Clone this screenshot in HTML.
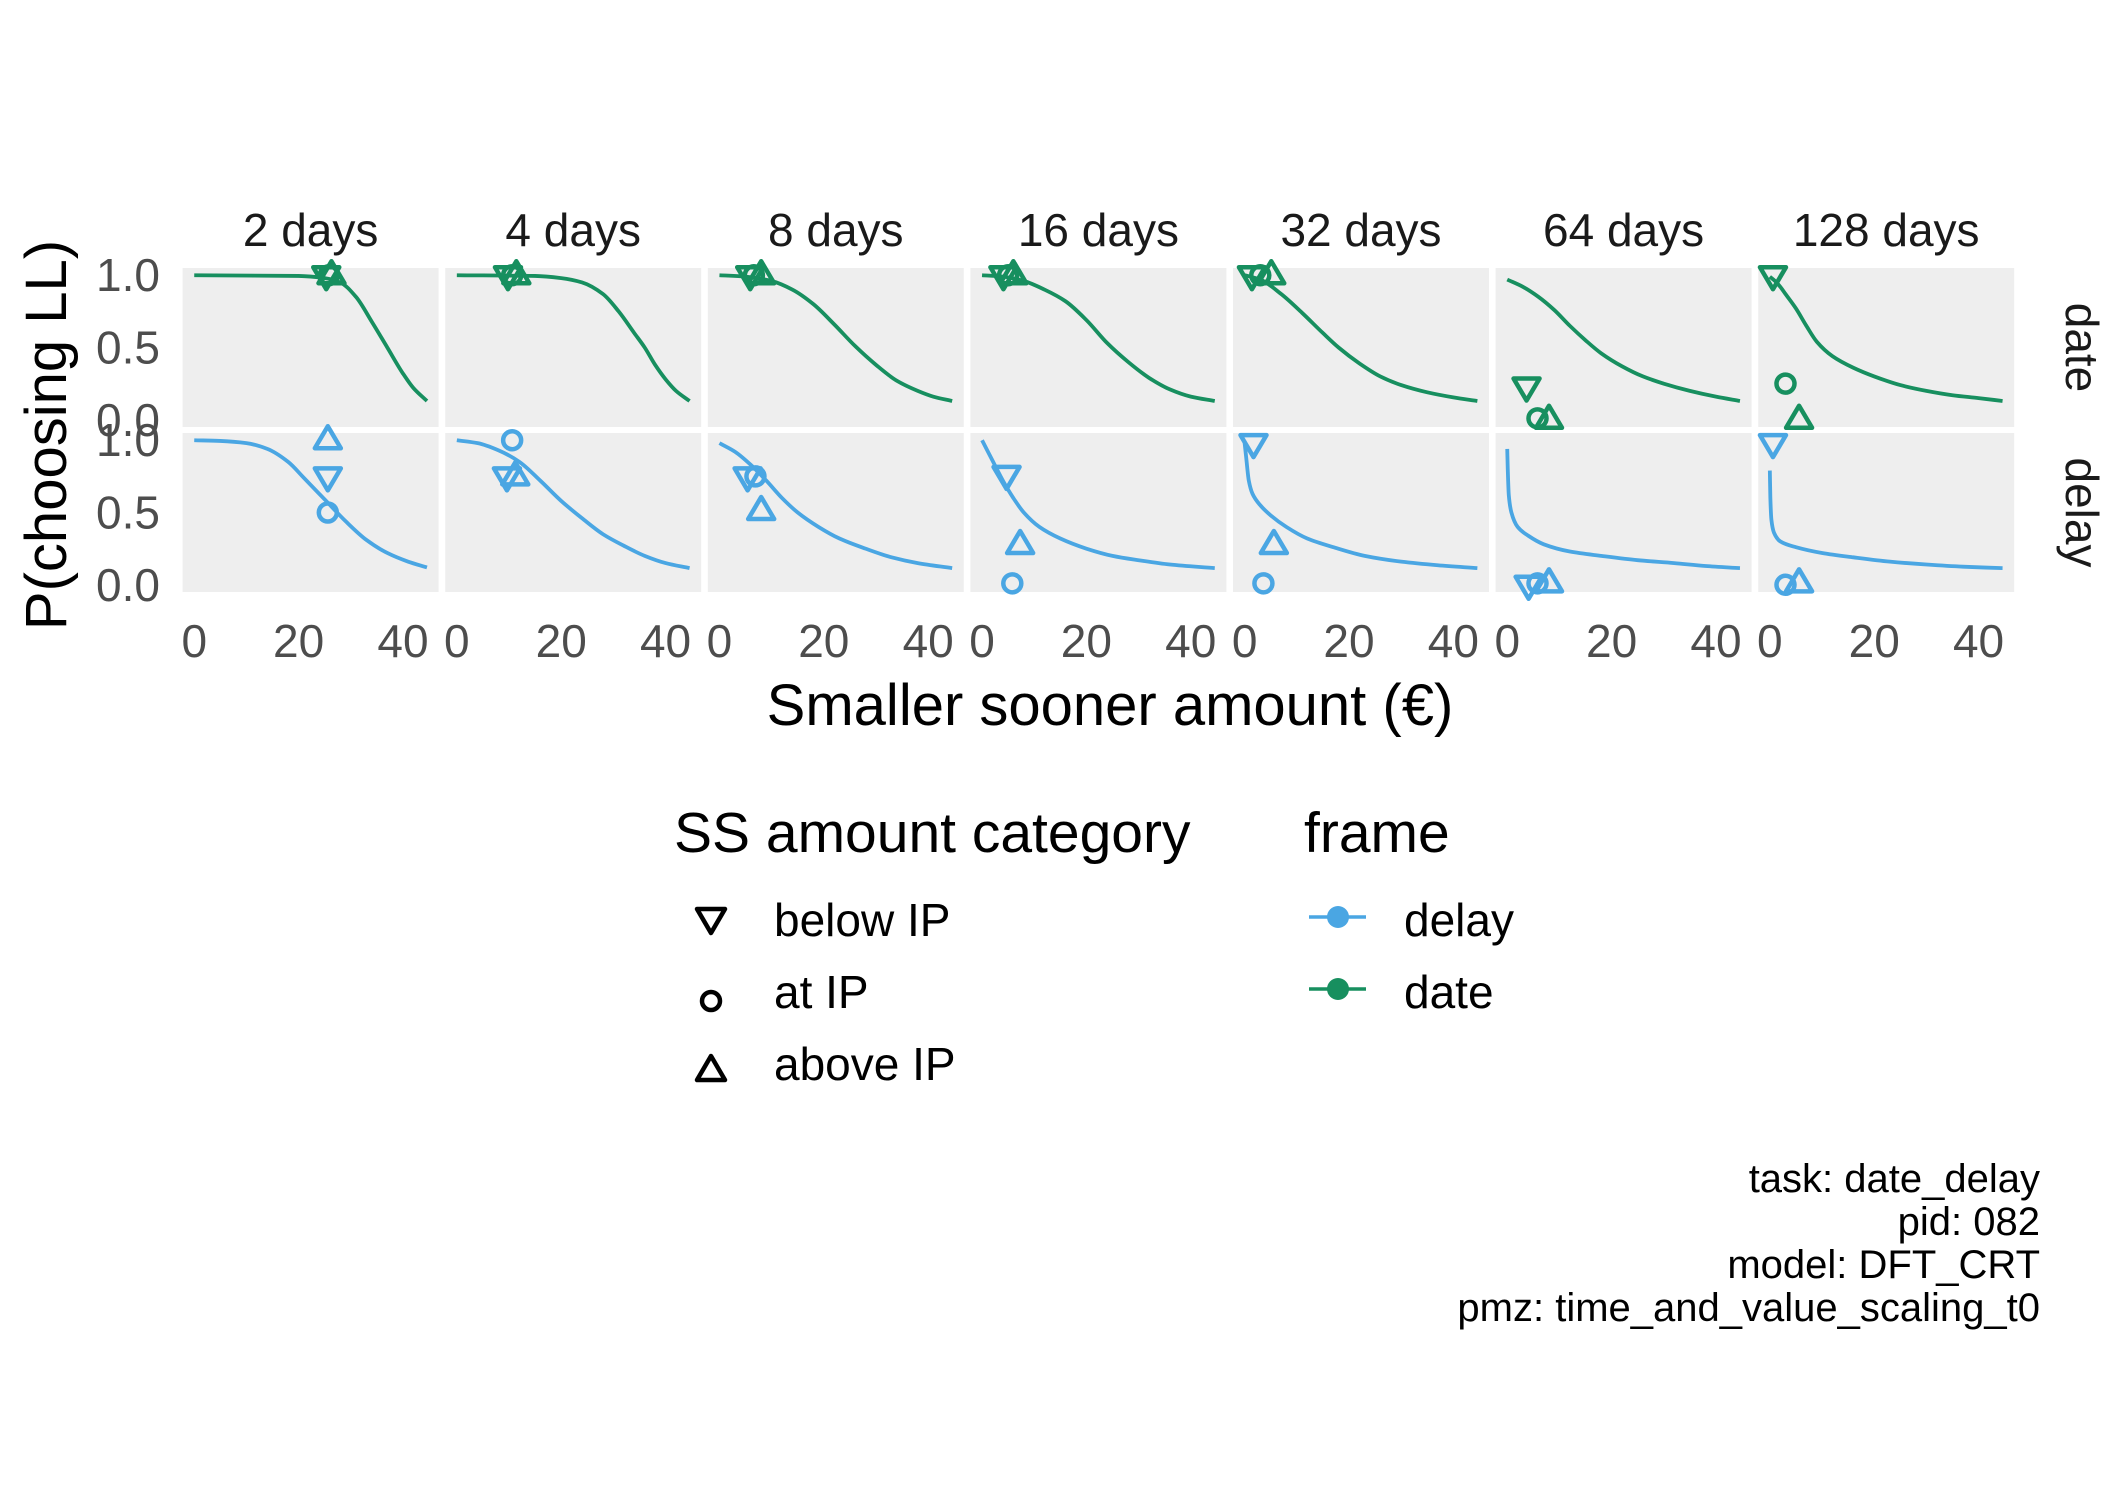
<!DOCTYPE html>
<html><head><meta charset="utf-8"><style>
html,body{margin:0;padding:0;background:#fff}
svg{display:block}
text{font-family:"Liberation Sans",Arial,sans-serif}
</style></head><body>
<svg id="chart" width="2125" height="1499" viewBox="0 0 2125 1499" xmlns="http://www.w3.org/2000/svg">
<g id="panels"></g>
<g id="axes"></g>
<text x="66" y="435" font-size="58" text-anchor="middle" transform="rotate(-90 66 435)" fill="#000">P(choosing LL)</text>
<text x="1110" y="725" font-size="58" text-anchor="middle" fill="#000">Smaller sooner amount (€)</text>
<g>
<text x="674" y="852" font-size="57" fill="#000">SS amount category</text>
<polygon points="697,909 725,909 711,933" fill="none" stroke="#000" stroke-width="4.5" stroke-linejoin="round"/>
<text x="774" y="936" font-size="46" fill="#000">below IP</text>
<circle cx="711" cy="1001" r="9" fill="none" stroke="#000" stroke-width="4.5"/>
<text x="774" y="1008" font-size="46" fill="#000">at IP</text>
<polygon points="697,1080 725,1080 711,1056" fill="none" stroke="#000" stroke-width="4.5" stroke-linejoin="round"/>
<text x="774" y="1080" font-size="46" fill="#000">above IP</text>
</g>
<g>
<text x="1304" y="852" font-size="57" fill="#000">frame</text>
<line x1="1309" y1="917" x2="1366" y2="917" stroke="#4aa6e3" stroke-width="3.5"/>
<circle cx="1338" cy="917" r="11" fill="#4aa6e3"/>
<text x="1404" y="936" font-size="46" fill="#000">delay</text>
<line x1="1309" y1="989" x2="1366" y2="989" stroke="#178f5f" stroke-width="3.5"/>
<circle cx="1338" cy="989" r="11" fill="#178f5f"/>
<text x="1404" y="1008" font-size="46" fill="#000">date</text>
</g>
<g font-size="40" text-anchor="end" fill="#000">
<text x="2040" y="1192">task: date_delay</text>
<text x="2040" y="1235">pid: 082</text>
<text x="2040" y="1278">model: DFT_CRT</text>
<text x="2040" y="1321">pmz: time_and_value_scaling_t0</text>
</g>
</svg>
<script>
const delays = ["2 days","4 days","8 days","16 days","32 days","64 days","128 days"];
const frames = ["date","delay"];
const xTicks = [0,20,40];
const yTicks = [0,0.5,1];
const yTickLabels = ["0.0","0.5","1.0"];
// fitted curves: x values and P values per panel
const dateCurveX = [
 [0,20,25,28,31,34,37,40,42,44.6],
 [0,15,20,24,28,31,34,36,38,40,42,44.6],
 [0,5,10,14,18,22,26,30,34,38,41,44.6],
 [0,4,8,12,16,20,24,28,32,36,40,44.6],
 [0,3,7,11,15,18,22,26,30,35,40,44.6],
 [0,3,6,9,12,15,18,22,26,30,35,40,44.6],
 [0,1,2,3,5,7,9,12,16,20,25,30,35,40,44.6]
];
const dateCurveP = [
 [1,0.995,0.98,0.95,0.85,0.68,0.5,0.32,0.22,0.13],
 [1,0.995,0.98,0.95,0.87,0.75,0.6,0.5,0.38,0.28,0.2,0.13],
 [1,0.99,0.96,0.9,0.8,0.66,0.51,0.38,0.27,0.2,0.16,0.13],
 [1,0.99,0.96,0.9,0.82,0.69,0.53,0.4,0.29,0.21,0.16,0.13],
 [1,0.97,0.87,0.74,0.6,0.5,0.39,0.3,0.24,0.19,0.155,0.13],
 [0.97,0.92,0.85,0.76,0.65,0.55,0.46,0.37,0.3,0.25,0.2,0.16,0.13],
 [0.99,0.96,0.92,0.87,0.77,0.65,0.54,0.44,0.36,0.3,0.24,0.2,0.17,0.15,0.13]
];
const delayCurveX = [
 [0,5,10,14,18,21,25,29,33,37,41,44.6],
 [0,4,8,12,16,20,24,28,32,36,40,44.6],
 [0,3,6,9,12,15,19,23,28,33,38,44.6],
 [0,1,2,4,6,8,11,15,20,25,30,36,44.6],
 [0,0.3,0.8,1.5,3,5,8,12,17,23,30,37,44.6],
 [0,0.1,0.3,0.8,2,4,7,12,18,25,32,38,44.6],
 [0,0.1,0.3,0.8,2,5,10,16,23,30,37,44.6]
];
const delayCurveP = [
 [1,0.995,0.98,0.94,0.85,0.74,0.59,0.44,0.31,0.22,0.16,0.12],
 [1,0.98,0.93,0.85,0.72,0.58,0.46,0.35,0.27,0.2,0.15,0.115],
 [0.98,0.92,0.83,0.72,0.6,0.5,0.4,0.32,0.25,0.19,0.15,0.115],
 [1,0.93,0.86,0.72,0.6,0.5,0.4,0.32,0.25,0.2,0.17,0.14,0.115],
 [0.98,0.88,0.72,0.63,0.55,0.48,0.4,0.32,0.26,0.2,0.16,0.135,0.115],
 [0.94,0.8,0.62,0.5,0.4,0.34,0.28,0.23,0.2,0.17,0.15,0.13,0.115],
 [0.79,0.6,0.45,0.36,0.3,0.26,0.22,0.19,0.16,0.14,0.125,0.115]
];
// observed proportions: [below, at, above]
const dateObsX = [[25.3,25.8,26.3],[9.8,10.6,11.4],[5.9,6.6,8.0],[4.1,5.0,6.0],[1.4,3.0,5.1],[3.7,5.8,8.0],[0.6,3.0,5.6]];
const dateObsP = [[1,1,1],[1,1,1],[1,1,1],[1,1,1],[1,1,1],[0.23,0.01,0.0],[1,0.25,0.0]];
const delayObsX = [[25.6,25.6,25.6],[9.6,10.6,11.2],[5.4,6.9,8.0],[4.7,5.8,7.3],[1.7,3.6,5.6],[4.1,5.8,8.0],[0.6,3.0,5.6]];
const delayObsP = [[0.75,0.5,1.0],[0.75,1.0,0.75],[0.75,0.75,0.51],[0.76,0.01,0.275],[0.98,0.01,0.275],[0.0,0.01,0.01],[0.98,0.0,0.01]];
const shapes = ["below","at","above"];

const NS = "http://www.w3.org/2000/svg";
const P0 = 182.6, PITCH = 262.6, PW = 256;
const ROWTOP = [268, 433], PH = 159;
const XMIN = -2.23, XMAX = 46.83;
const colors = {date:"#178f5f", delay:"#4aa6e3"};
function xs(i, v){ return P0 + i*PITCH + (v - XMIN)/(XMAX - XMIN)*PW; }
function ys(r, p){ return ROWTOP[r] + PH - (p + 0.05)/1.1*PH; }
function mk(tag, attrs, parent){ const e=document.createElementNS(NS,tag); for(const k in attrs) e.setAttribute(k,attrs[k]); parent.appendChild(e); return e; }
// monotone cubic (Fritsch-Carlson) in screen coords
function smooth(pts){
  const n=pts.length, dx=[], sl=[], m=[];
  for(let k=0;k<n-1;k++){ dx[k]=pts[k+1][0]-pts[k][0]; sl[k]=(pts[k+1][1]-pts[k][1])/dx[k]; }
  m[0]=sl[0]; m[n-1]=sl[n-2];
  for(let k=1;k<n-1;k++){ m[k] = (sl[k-1]*sl[k]<=0)?0:(3*(dx[k-1]+dx[k]))/((2*dx[k]+dx[k-1])/sl[k-1]+(dx[k]+2*dx[k-1])/sl[k]); }
  let d="M"+pts[0][0].toFixed(2)+","+pts[0][1].toFixed(2);
  for(let k=0;k<n-1;k++){
    const h=dx[k]/3;
    d+=" C"+(pts[k][0]+h).toFixed(2)+","+(pts[k][1]+m[k]*h).toFixed(2)+" "+(pts[k+1][0]-h).toFixed(2)+","+(pts[k+1][1]-m[k+1]*h).toFixed(2)+" "+pts[k+1][0].toFixed(2)+","+pts[k+1][1].toFixed(2);
  }
  return d;
}
function marker(shape, cx, cy, color, parent){
  let el;
  if(shape==="at"){ el = mk("circle",{cx:cx,cy:cy,r:9,fill:"none",stroke:color,"stroke-width":4.5},parent); }
  else if(shape==="below"){ el = mk("polygon",{points:`${cx-13},${cy-8} ${cx+13},${cy-8} ${cx},${cy+14}`,fill:"none",stroke:color,"stroke-width":4.5,"stroke-linejoin":"round"},parent); }
  else { el = mk("polygon",{points:`${cx-13},${cy+8} ${cx+13},${cy+8} ${cx},${cy-14}`,fill:"none",stroke:color,"stroke-width":4.5,"stroke-linejoin":"round"},parent); }
  return el;
}
const gP = document.getElementById("panels"), gA = document.getElementById("axes");
for(let i=0;i<delays.length;i++){
  const st = mk("text",{x:P0+i*PITCH+PW/2, y:246, "font-size":46, "text-anchor":"middle", fill:"#1a1a1a"}, gA);
  st.textContent = delays[i];
  
  
  for(let r=0;r<2;r++){
    const f = frames[r];
    const bg = mk("rect",{x:P0+i*PITCH, y:ROWTOP[r], width:PW, height:PH, fill:"#eeeeee"}, gP);
    
    
    const cx = r===0?dateCurveX[i]:delayCurveX[i], cp = r===0?dateCurveP[i]:delayCurveP[i];
    const pts = cx.map((v,k)=>[xs(i,v), ys(r,cp[k])]);
    const path = mk("path",{d:smooth(pts), fill:"none", stroke:colors[f], "stroke-width":3.8}, gP);
    
    
    const ox = r===0?dateObsX[i]:delayObsX[i], op = r===0?dateObsP[i]:delayObsP[i];
    for(let s=0;s<3;s++){
      const m = marker(shapes[s], xs(i,ox[s]), ys(r,op[s]), colors[f], gP);
      
      
    }
  }
  for(const t of xTicks){
    const tl = mk("text",{x:xs(i,t), y:657, "font-size":46, "text-anchor":"middle", fill:"#4d4d4d"}, gA);
    tl.textContent = String(t);
    
    
  }
}
for(let r=0;r<2;r++){
  yTicks.forEach((t,k)=>{
    const tl = mk("text",{x:160, y:ys(r,t)+16, "font-size":46, "text-anchor":"end", fill:"#4d4d4d"}, gA);
    tl.textContent = yTickLabels[k];
    
    
  });
  const cy = ROWTOP[r]+PH/2;
  const rl = mk("text",{x:2066, y:cy, "font-size":46, "text-anchor":"middle", fill:"#1a1a1a", transform:`rotate(90 2066 ${cy})`}, gA);
  rl.textContent = frames[r];
  
  
}
</script>
</body></html>
